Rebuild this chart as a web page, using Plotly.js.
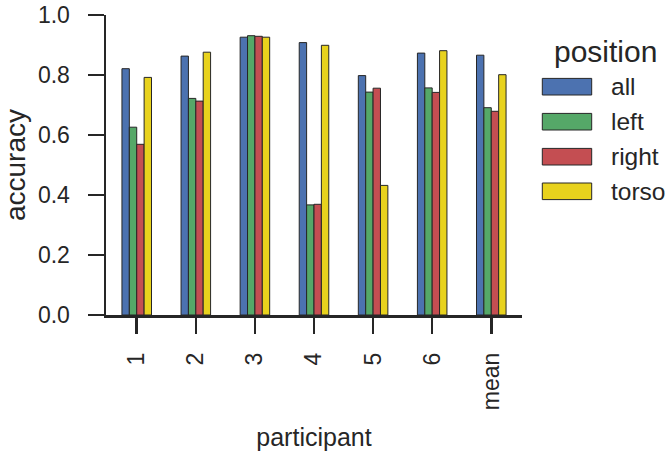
<!DOCTYPE html>
<html>
<head>
<meta charset="utf-8">
<script src="https://cdn.plot.ly/plotly-3.0.1.min.js"></script>
<style>html,body{margin:0;padding:0;background:#fff;}#chart{width:670px;height:454px;}</style>
</head>
<body>
<div id="chart"></div>
<script>
var participants = ["1", "2", "3", "4", "5", "6", "mean"];
var positions = ["all", "left", "right", "torso"];
var allVals   = [0.821, 0.863, 0.926, 0.908, 0.798, 0.873, 0.866];
var leftVals  = [0.626, 0.722, 0.931, 0.367, 0.743, 0.757, 0.691];
var rightVals = [0.569, 0.713, 0.929, 0.369, 0.756, 0.742, 0.679];
var torsoVals = [0.792, 0.876, 0.926, 0.899, 0.432, 0.881, 0.801];
var colors = ["#4C72B0", "#55A868", "#C44E52", "#E8D21D"];

var FONT = "Liberation Sans, Arial, sans-serif";
var series = [allVals, leftVals, rightVals, torsoVals];
var traces = series.map(function (vals, i) {
  return {
    type: "bar",
    name: positions[i],
    x: participants,
    y: vals,
    marker: {color: colors[i], line: {color: "#262626", width: 1}},
    showlegend: false,
    hoverinfo: "x+y+name"
  };
});

var W = 670, H = 454;
var M = {l: 106, r: 148, t: 15, b: 139};
var pw = W - M.l - M.r, ph = H - M.t - M.b;
function px(x) { return (x - M.l) / pw; }
function py(y) { return (M.t + ph - y) / ph; }

var shapes = [], annotations = [];
annotations.push({
  xref: "paper", yref: "paper", x: px(605), y: py(52),
  xanchor: "center", yanchor: "middle", showarrow: false,
  text: "position", font: {family: FONT, size: 30, color: "#262626"}
});
var legendY = [86.7, 121.7, 156.7, 191.3];
positions.forEach(function (p, i) {
  shapes.push({
    type: "rect", xref: "paper", yref: "paper",
    x0: px(542.3), x1: px(591.7), y0: py(legendY[i] - 8.3), y1: py(legendY[i] + 8.3),
    fillcolor: colors[i], line: {color: "#262626", width: 1}
  });
  annotations.push({
    xref: "paper", yref: "paper", x: px(609), y: py(legendY[i]),
    xanchor: "left", yanchor: "middle", showarrow: false,
    text: p, font: {family: FONT, size: 24.5, color: "#262626"}
  });
});

var axisCommon = {
  showline: true, linecolor: "#262626", linewidth: 2.5,
  ticks: "outside", ticklen: 16, tickwidth: 2.5, tickcolor: "#262626",
  showgrid: false, zeroline: false,
  tickfont: {family: FONT, size: 23, color: "#262626"}
};

var layout = {
  width: W, height: H,
  margin: M,
  paper_bgcolor: "#fff", plot_bgcolor: "#fff",
  barmode: "group", bargap: 0.5, bargroupgap: 0,
  font: {family: FONT, color: "#262626"},
  xaxis: Object.assign({}, axisCommon, {
    type: "category", range: [-0.52, 6.52], tickangle: -90,
    ticklabelstandoff: 10,
    title: {text: "participant", standoff: 20, font: {family: FONT, size: 25, color: "#262626"}}
  }),
  yaxis: Object.assign({}, axisCommon, {
    range: [0, 1.0], dtick: 0.2, tick0: 0, tickformat: ".1f",
    ticklabelstandoff: 13,
    title: {text: "accuracy", standoff: 17, font: {family: FONT, size: 28, color: "#262626"}}
  }),
  shapes: shapes,
  annotations: annotations
};

Plotly.newPlot("chart", traces, layout, {displayModeBar: false, staticPlot: true});
</script>
</body>
</html>
